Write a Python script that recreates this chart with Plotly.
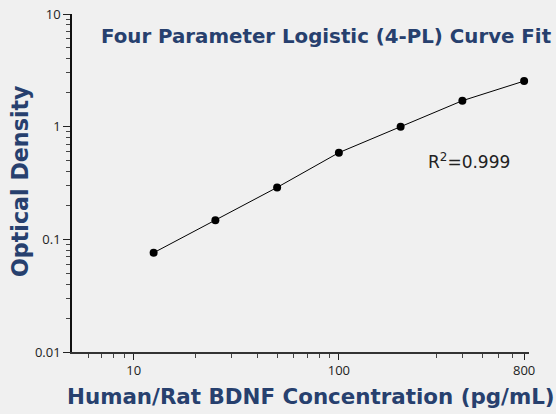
import plotly.graph_objects as go
import math

concentration = [12.5, 25, 50, 100, 200, 400, 800]
optical_density = [0.076, 0.148, 0.289, 0.588, 1.0, 1.70, 2.54]

x_major_ticks = [10, 100, 800]
x_minor_ticks = [6, 7, 8, 9, 20, 30, 40, 50, 60, 70, 80, 90, 300, 400, 500, 600, 700]
y_major_ticks = [0.01, 0.1, 1, 10]
y_major_labels = ["0.01", "0.1", "1", "10"]
y_minor_ticks = [m * 10 ** e for e in (-2, -1, 0) for m in range(2, 10)]

navy = "#27406e"
bg = "#f0f0f0"
W, H = 556, 414
L, R, T, B = 72, 27, 14, 62
pw, ph = W - L - R, H - T - B
title_font = "DejaVu Sans"

fig = go.Figure()
fig.add_trace(go.Scatter(
    x=concentration, y=optical_density, mode="lines+markers",
    line=dict(color="black", width=1),
    marker=dict(color="black", size=8),
    showlegend=False, hoverinfo="skip"))

fig.update_layout(
    width=W, height=H,
    paper_bgcolor=bg, plot_bgcolor=bg,
    margin=dict(l=L, r=R, t=T, b=B, autoexpand=False),
    font=dict(family="Open Sans", color="#222"),
    xaxis=dict(
        type="log", range=[math.log10(5), math.log10(845)],
        automargin=False,
        showgrid=False, zeroline=False,
        showline=True, linecolor="#333", linewidth=1.5,
        tickmode="array", tickvals=x_major_ticks, ticktext=[str(v) for v in x_major_ticks],
        ticks="outside", ticklen=6, tickwidth=1.2, tickcolor="#222",
        tickfont=dict(size=13, color="#222"),
        minor=dict(tickmode="array", tickvals=x_minor_ticks, ticks="outside",
                   ticklen=4, tickwidth=1, tickcolor="#444", showgrid=False),
    ),
    yaxis=dict(
        type="log", range=[-2, 1],
        automargin=False,
        showgrid=False, zeroline=False,
        showline=True, linecolor="#111", linewidth=1.5,
        tickmode="array", tickvals=y_major_ticks, ticktext=y_major_labels,
        ticks="outside", ticklen=7, tickwidth=1.2, tickcolor="#222",
        tickfont=dict(size=13, color="#222"),
        minor=dict(tickmode="array", tickvals=y_minor_ticks, ticks="outside",
                   ticklen=4, tickwidth=1, tickcolor="#444", showgrid=False),
    ),
    annotations=[
        dict(text="<b>Four Parameter Logistic (4-PL) Curve Fit</b>",
             xref="paper", yref="paper", x=(99 - L) / pw, y=1 - (36 - T) / ph,
             xanchor="left", yanchor="middle", showarrow=False,
             font=dict(family=title_font, size=19.8, color=navy)),
        dict(text="R<sup>2</sup>=0.999",
             xref="paper", yref="paper", x=(469 - L) / pw, y=1 - (161 - T) / ph,
             xanchor="center", yanchor="middle", showarrow=False,
             font=dict(family=title_font, size=17, color="#222")),
        dict(text="<b>Human/Rat BDNF Concentration (pg/mL)</b>",
             xref="paper", yref="paper", x=(311 - L) / pw, y=1 - (397 - T) / ph,
             xanchor="center", yanchor="middle", showarrow=False,
             font=dict(family=title_font, size=21.4, color=navy)),
        dict(text="<b>Optical Density</b>", textangle=-90,
             xref="paper", yref="paper", x=(20 - L) / pw, y=1 - (181 - T) / ph,
             xanchor="center", yanchor="middle", showarrow=False,
             font=dict(family=title_font, size=22.2, color=navy)),
    ],
)

fig.write_html("out.html", config={"displayModeBar": False},
               post_script="document.body.style.margin='0';")
